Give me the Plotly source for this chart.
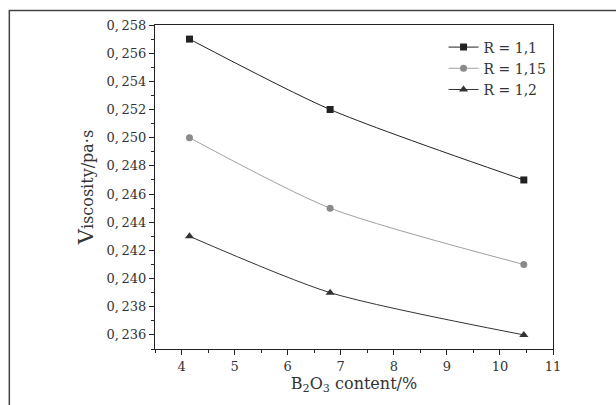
import plotly.graph_objects as go

b2o3_content = [4.15, 6.8, 10.45]
visc_r110 = [0.257, 0.252, 0.247]
visc_r115 = [0.250, 0.245, 0.241]
visc_r120 = [0.243, 0.239, 0.236]
series_names = ["R = 1,1", "R = 1,15", "R = 1,2"]
y_ticks = [0.236, 0.238, 0.240, 0.242, 0.244, 0.246, 0.248, 0.250, 0.252, 0.254, 0.256, 0.258]
y_tick_labels = ["0,\u2009" + f"{v:.3f}".split(".")[1] for v in y_ticks]
x_ticks = [4, 5, 6, 7, 8, 9, 10, 11]

FONT = "DejaVu Serif"

fig = go.Figure()
styles = [
    dict(line_color="#222222", marker=dict(symbol="square", size=7, color="#222222")),
    dict(line_color="#a0a0a0", marker=dict(symbol="circle", size=7, color="#8a8a8a")),
    dict(line_color="#333333", marker=dict(symbol="triangle-up", size=8, color="#333333")),
]
for name, ys, st in zip(series_names, [visc_r110, visc_r115, visc_r120], styles):
    fig.add_trace(go.Scatter(
        x=b2o3_content, y=ys, name=name, mode="lines+markers",
        line=dict(color=st["line_color"], width=1, shape="spline", smoothing=0.7),
        marker=st["marker"],
    ))

axis_common = dict(
    showline=True, linecolor="#222222", linewidth=1, mirror=True,
    ticks="outside", ticklen=5, tickcolor="#222222", tickwidth=1,
    showgrid=False, zeroline=False,
    tickfont=dict(family=FONT, size=13, color="#333333"),
)

fig.update_layout(
    width=616, height=405,
    margin=dict(l=155, r=63, t=25, b=56),
    paper_bgcolor="white", plot_bgcolor="white",
    font=dict(family=FONT, color="#333333"),
    xaxis=dict(
        range=[3.5, 11], tickvals=x_ticks,
        minor=dict(dtick=0.5, tick0=3.5, ticks="outside", ticklen=3, tickcolor="#222222"),
        title=dict(text="B<sub>2</sub>O<sub>3</sub> content/%", font=dict(family=FONT, size=16, color="#333333"), standoff=2),
        **axis_common,
    ),
    yaxis=dict(
        range=[0.235, 0.258], tickvals=y_ticks, ticktext=y_tick_labels,
        minor=dict(dtick=0.001, tick0=0.235, ticks="outside", ticklen=3, tickcolor="#222222"),
        title=dict(text="<span style='font-size:21px'>V</span>iscosity/pa·s", font=dict(family=FONT, size=16, color="#333333"), standoff=8),
        **axis_common,
    ),
    legend=dict(
        x=0.725, y=0.98, xanchor="left", yanchor="top",
        bgcolor="rgba(0,0,0,0)", borderwidth=0,
        font=dict(family=FONT, size=14, color="#333333"),
        itemwidth=30, tracegroupgap=0,
    ),
    shapes=[dict(
        type="rect", xref="paper", yref="paper",
        x0=-0.366, x1=1.2, y0=-0.2, y1=1.0448,
        line=dict(color="#444444", width=1.5), layer="below",
    )],
)

fig.write_html("out.html")
